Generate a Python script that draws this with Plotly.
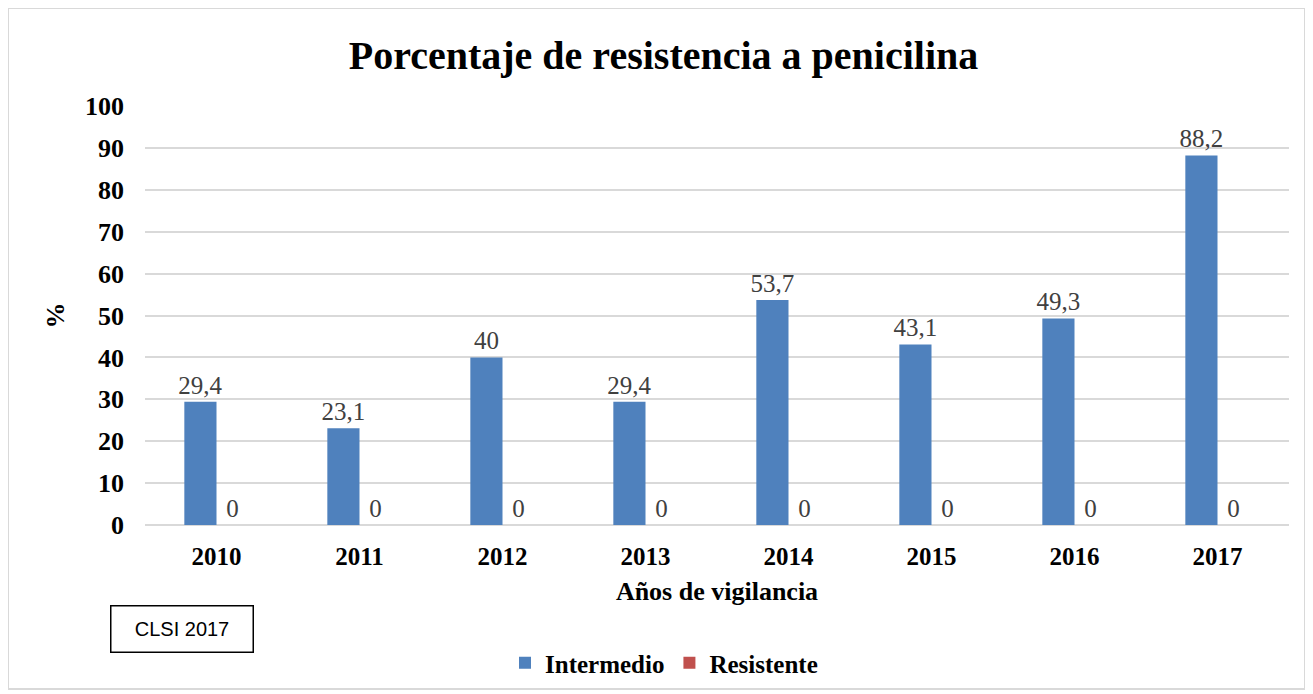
import plotly.graph_objects as go

years = ["2010", "2011", "2012", "2013", "2014", "2015", "2016", "2017"]
intermedio = [29.4, 23.1, 40, 29.4, 53.7, 43.1, 49.3, 88.2]
resistente = [0, 0, 0, 0, 0, 0, 0, 0]
y_ticks = [0, 10, 20, 30, 40, 50, 60, 70, 80, 90, 100]

def fmt(v):
    return ("%g" % v).replace(".", ",")

SERIF = "Liberation Serif"
OX, OY = 8, 8  # page body margin
W, H = 1313 - OX, 694 - OY
# plot area in page pixels: x 145..1289, y 106..525
L, T = 145 - OX, 106 - OY
R = W - (1289 - OX)
B = H - (525 - OY)
pw, ph = W - L - R, H - T - B

def px_x(x):  # page px -> paper
    return (x - OX - L) / pw

def px_y(y):
    return (H - B - (y - OY)) / ph

fig = go.Figure()
fig.add_trace(go.Bar(
    x=years, y=intermedio, name="<b>Intermedio</b>",
    marker=dict(color="#4f81bd", line=dict(width=0)),
    text=[fmt(v) for v in intermedio], textposition="outside", constraintext="none",
    textfont=dict(family=SERIF, size=25, color="#404040"),
    cliponaxis=False,
))
fig.add_trace(go.Bar(
    x=years, y=resistente, name="<b>Resistente</b>",
    marker=dict(color="#c0504d", line=dict(width=0)),
    text=[fmt(v) for v in resistente], textposition="outside", constraintext="none",
    textfont=dict(family=SERIF, size=25, color="#404040"),
    cliponaxis=False,
))

fig.update_layout(
    width=W, height=H,
    margin=dict(l=L, r=R, t=T, b=B, autoexpand=False),
    paper_bgcolor="white", plot_bgcolor="white",
    barmode="group", bargap=0.55, bargroupgap=0,
    title=dict(text="<b>Porcentaje de resistencia a penicilina</b>",
               font=dict(family=SERIF, size=40, color="black"),
               x=((345 + 982) / 2 - OX) / W, xanchor="center", y=1 - (55 - OY) / H, yanchor="middle"),
    font=dict(family=SERIF, color="black"),
    showlegend=True,
    legend=dict(orientation="h", x=px_x(505), xanchor="left", y=px_y(663), yanchor="middle",
                font=dict(family=SERIF, size=25, color="black"),
                itemwidth=30, traceorder="normal", itemsizing="constant",
                bgcolor="rgba(0,0,0,0)"),
    xaxis=dict(
        tickfont=dict(family=SERIF, size=25, color="black"),
        tickprefix="<b>", ticksuffix="</b>",
        showgrid=False, showline=False, ticks="", ticklabelstandoff=14,
        title=dict(text="<b>Años de vigilancia</b>", font=dict(family=SERIF, size=26, color="black"), standoff=12),
    ),
    yaxis=dict(
        range=[0, 100], tickvals=y_ticks, ticktext=["<b>%d</b>" % v for v in y_ticks],
        tickfont=dict(family=SERIF, size=26, color="black"),
        showgrid=True, gridcolor="#d9d9d9", gridwidth=2,
        zeroline=True, zerolinecolor="#d9d9d9", zerolinewidth=2,
        showline=False, ticks="", ticklabelstandoff=20,
        title=dict(text="<b>%</b>", font=dict(family=SERIF, size=26, color="black"), standoff=12),
    ),
    shapes=[dict(type="rect", xref="paper", yref="paper",
                 x0=px_x(8), x1=px_x(1305), y0=px_y(689), y1=px_y(8),
                 line=dict(color="#d9d9d9", width=2), fillcolor="rgba(0,0,0,0)", layer="below")],
    annotations=[dict(text="CLSI 2017", xref="paper", yref="paper",
                      x=px_x(181.5), y=px_y(628.5), xanchor="center", yanchor="middle",
                      showarrow=False, font=dict(family="Liberation Sans", size=20, color="black"),
                      bordercolor="black", borderwidth=1.5, width=139, height=43, bgcolor="white")],
)

fig.write_html("out.html")
